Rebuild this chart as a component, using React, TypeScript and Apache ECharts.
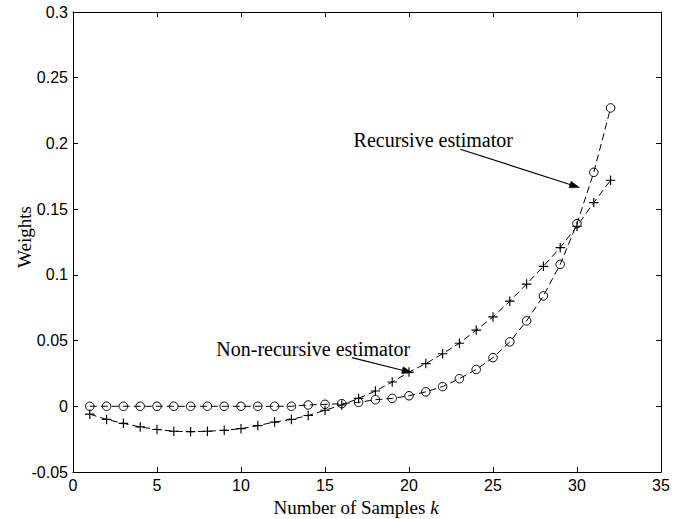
import React, { useEffect, useRef } from "react";
import * as echarts from "echarts";

const samples = [1, 2, 3, 4, 5, 6, 7, 8, 9, 10, 11, 12, 13, 14, 15, 16, 17, 18, 19, 20, 21, 22, 23, 24, 25, 26, 27, 28, 29, 30, 31, 32];
const recursiveWeights = [0, 0, 0, 0, 0, 0, 0, 0, 0, 0, 0, 0, 0, 0.001, 0.0015, 0.002, 0.003, 0.005, 0.006, 0.008, 0.011, 0.015, 0.021, 0.028, 0.037, 0.049, 0.065, 0.084, 0.108, 0.139, 0.178, 0.227];
const nonRecursiveWeights = [-0.006, -0.01, -0.013, -0.0157, -0.0177, -0.019, -0.0193, -0.019, -0.0183, -0.017, -0.0147, -0.012, -0.01, -0.007, -0.003, 0.001, 0.006, 0.0116, 0.0185, 0.026, 0.0325, 0.04, 0.048, 0.058, 0.068, 0.08, 0.093, 0.1065, 0.1207, 0.137, 0.155, 0.172];
const xTicks = [0, 5, 10, 15, 20, 25, 30, 35];
const yTicks = [-0.05, 0, 0.05, 0.1, 0.15, 0.2, 0.25, 0.3];
const yTickLabels = ["-0.05", "0", "0.05", "0.1", "0.15", "0.2", "0.25", "0.3"];
const yAxisTitle = "Weights";

const annotations = [
  { text: "Recursive estimator", label: [16.7, 0.2024], from: [23.05, 0.1956], to: [30.15, 0.1664] },
  { text: "Non-recursive estimator", label: [8.53, 0.0439], from: [16.6, 0.037], to: [20.18, 0.0256] },
];

const PLUS = "path://M4.4,0H5.6V4.4H10V5.6H5.6V10H4.4V5.6H0V4.4H4.4Z";
const SANS = "'Liberation Sans', Arial, Helvetica, sans-serif";
const SERIF = "'Liberation Serif', 'Times New Roman', serif";

export default function App() {
  const ref = useRef<HTMLDivElement>(null);
  useEffect(() => {
    if (!ref.current) return;
    const chart = echarts.init(ref.current, null, { renderer: "svg" });
    const step = xTicks[1] - xTicks[0];
    const ystep = yTicks[1] - yTicks[0];
    const axisLine = { show: true, onZero: false, lineStyle: { color: "#000", width: 1 } };
    const axisTick = { show: true, inside: true, length: 5, lineStyle: { color: "#000", width: 1 } };
    const yLabel = (v: number) => {
      const i = yTicks.findIndex((t) => Math.abs(t - v) < 1e-9);
      return i >= 0 ? yTickLabels[i] : "";
    };
    chart.setOption({
      animation: false,
      backgroundColor: "#fff",
      grid: { left: 73, right: 16, top: 12, bottom: 47, containLabel: false, outerBoundsMode: "none" },
      xAxis: [
        {
          type: "value",
          min: xTicks[0],
          max: xTicks[xTicks.length - 1],
          interval: step,
          position: "bottom",
          axisLine,
          axisTick,
          splitLine: { show: false },
          axisLabel: { color: "#000", fontFamily: SANS, fontSize: 16, margin: 5 },
          name: "Number of Samples {k|k}",
          nameLocation: "middle",
          nameGap: 25,
          nameTextStyle: {
            color: "#000",
            fontFamily: SERIF,
            fontSize: 19,
            padding: [0, 22, 0, 0],
            rich: { k: { fontStyle: "italic", fontFamily: SERIF, fontSize: 19, color: "#000" } },
          },
        },
        {
          type: "value",
          min: xTicks[0],
          max: xTicks[xTicks.length - 1],
          interval: step,
          position: "top",
          axisLine,
          axisTick,
          splitLine: { show: false },
          axisLabel: { show: false },
        },
      ],
      yAxis: [
        {
          type: "value",
          min: yTicks[0],
          max: yTicks[yTicks.length - 1],
          interval: ystep,
          position: "left",
          axisLine,
          axisTick,
          splitLine: { show: false },
          axisLabel: { color: "#000", fontFamily: SANS, fontSize: 16, margin: 5, formatter: yLabel },
        },
        {
          type: "value",
          min: yTicks[0],
          max: yTicks[yTicks.length - 1],
          interval: ystep,
          position: "right",
          axisLine,
          axisTick,
          splitLine: { show: false },
          axisLabel: { show: false },
        },
      ],
      series: [
        {
          name: "Recursive estimator",
          type: "line",
          xAxisIndex: 0,
          yAxisIndex: 0,
          data: samples.map((k, i) => [k, recursiveWeights[i]]),
          symbol: "circle",
          symbolSize: 8.5,
          showAllSymbol: true,
          itemStyle: { color: "rgba(0,0,0,0)", borderColor: "#000", borderWidth: 1 },
          lineStyle: { color: "#000", width: 1, type: [7, 4] },
          z: 3,
        },
        {
          name: "Non-recursive estimator",
          type: "line",
          xAxisIndex: 0,
          yAxisIndex: 0,
          data: samples.map((k, i) => [k, nonRecursiveWeights[i]]),
          symbol: PLUS,
          symbolSize: 9.5,
          showAllSymbol: true,
          itemStyle: { color: "#000", borderWidth: 0 },
          lineStyle: { color: "#000", width: 1, type: [7, 4] },
          z: 3,
        },
      ],
    });

    const graphics: any[] = [];
    const axisOrigin = chart.convertToPixel({ gridIndex: 0 }, [xTicks[0], (yTicks[0] + yTicks[yTicks.length - 1]) / 2]) as number[];
    graphics.push({
      type: "text",
      x: axisOrigin[0] - 49,
      y: axisOrigin[1] - 5,
      rotation: Math.PI / 2,
      style: { text: yAxisTitle, fill: "#000", font: `19px ${SERIF}`, textAlign: "center", textVerticalAlign: "middle" },
    });
    annotations.forEach((a) => {
      const lp = chart.convertToPixel({ gridIndex: 0 }, a.label) as number[];
      const p0 = chart.convertToPixel({ gridIndex: 0 }, a.from) as number[];
      const p1 = chart.convertToPixel({ gridIndex: 0 }, a.to) as number[];
      const dx = p1[0] - p0[0];
      const dy = p1[1] - p0[1];
      const len = Math.sqrt(dx * dx + dy * dy);
      const ux = dx / len;
      const uy = dy / len;
      const hl = 10;
      const hw = 3.5;
      const bx = p1[0] - ux * hl;
      const by = p1[1] - uy * hl;
      graphics.push({
        type: "text",
        x: lp[0],
        y: lp[1],
        style: { text: a.text, fill: "#000", font: `20px ${SERIF}`, textAlign: "left", textVerticalAlign: "middle" },
      });
      graphics.push({
        type: "line",
        shape: { x1: p0[0], y1: p0[1], x2: bx, y2: by },
        style: { stroke: "#000", lineWidth: 1.2 },
      });
      graphics.push({
        type: "polygon",
        shape: {
          points: [
            [p1[0], p1[1]],
            [bx - uy * hw, by + ux * hw],
            [bx + uy * hw, by - ux * hw],
          ],
        },
        style: { fill: "#000", stroke: "#000", lineWidth: 0.5 },
      });
    });
    chart.setOption({ graphic: graphics });

    return () => chart.dispose();
  }, []);
  return <div ref={ref} style={{ position: "fixed", left: 0, top: 0, width: 677, height: 519, background: "#fff" }} />;
}
